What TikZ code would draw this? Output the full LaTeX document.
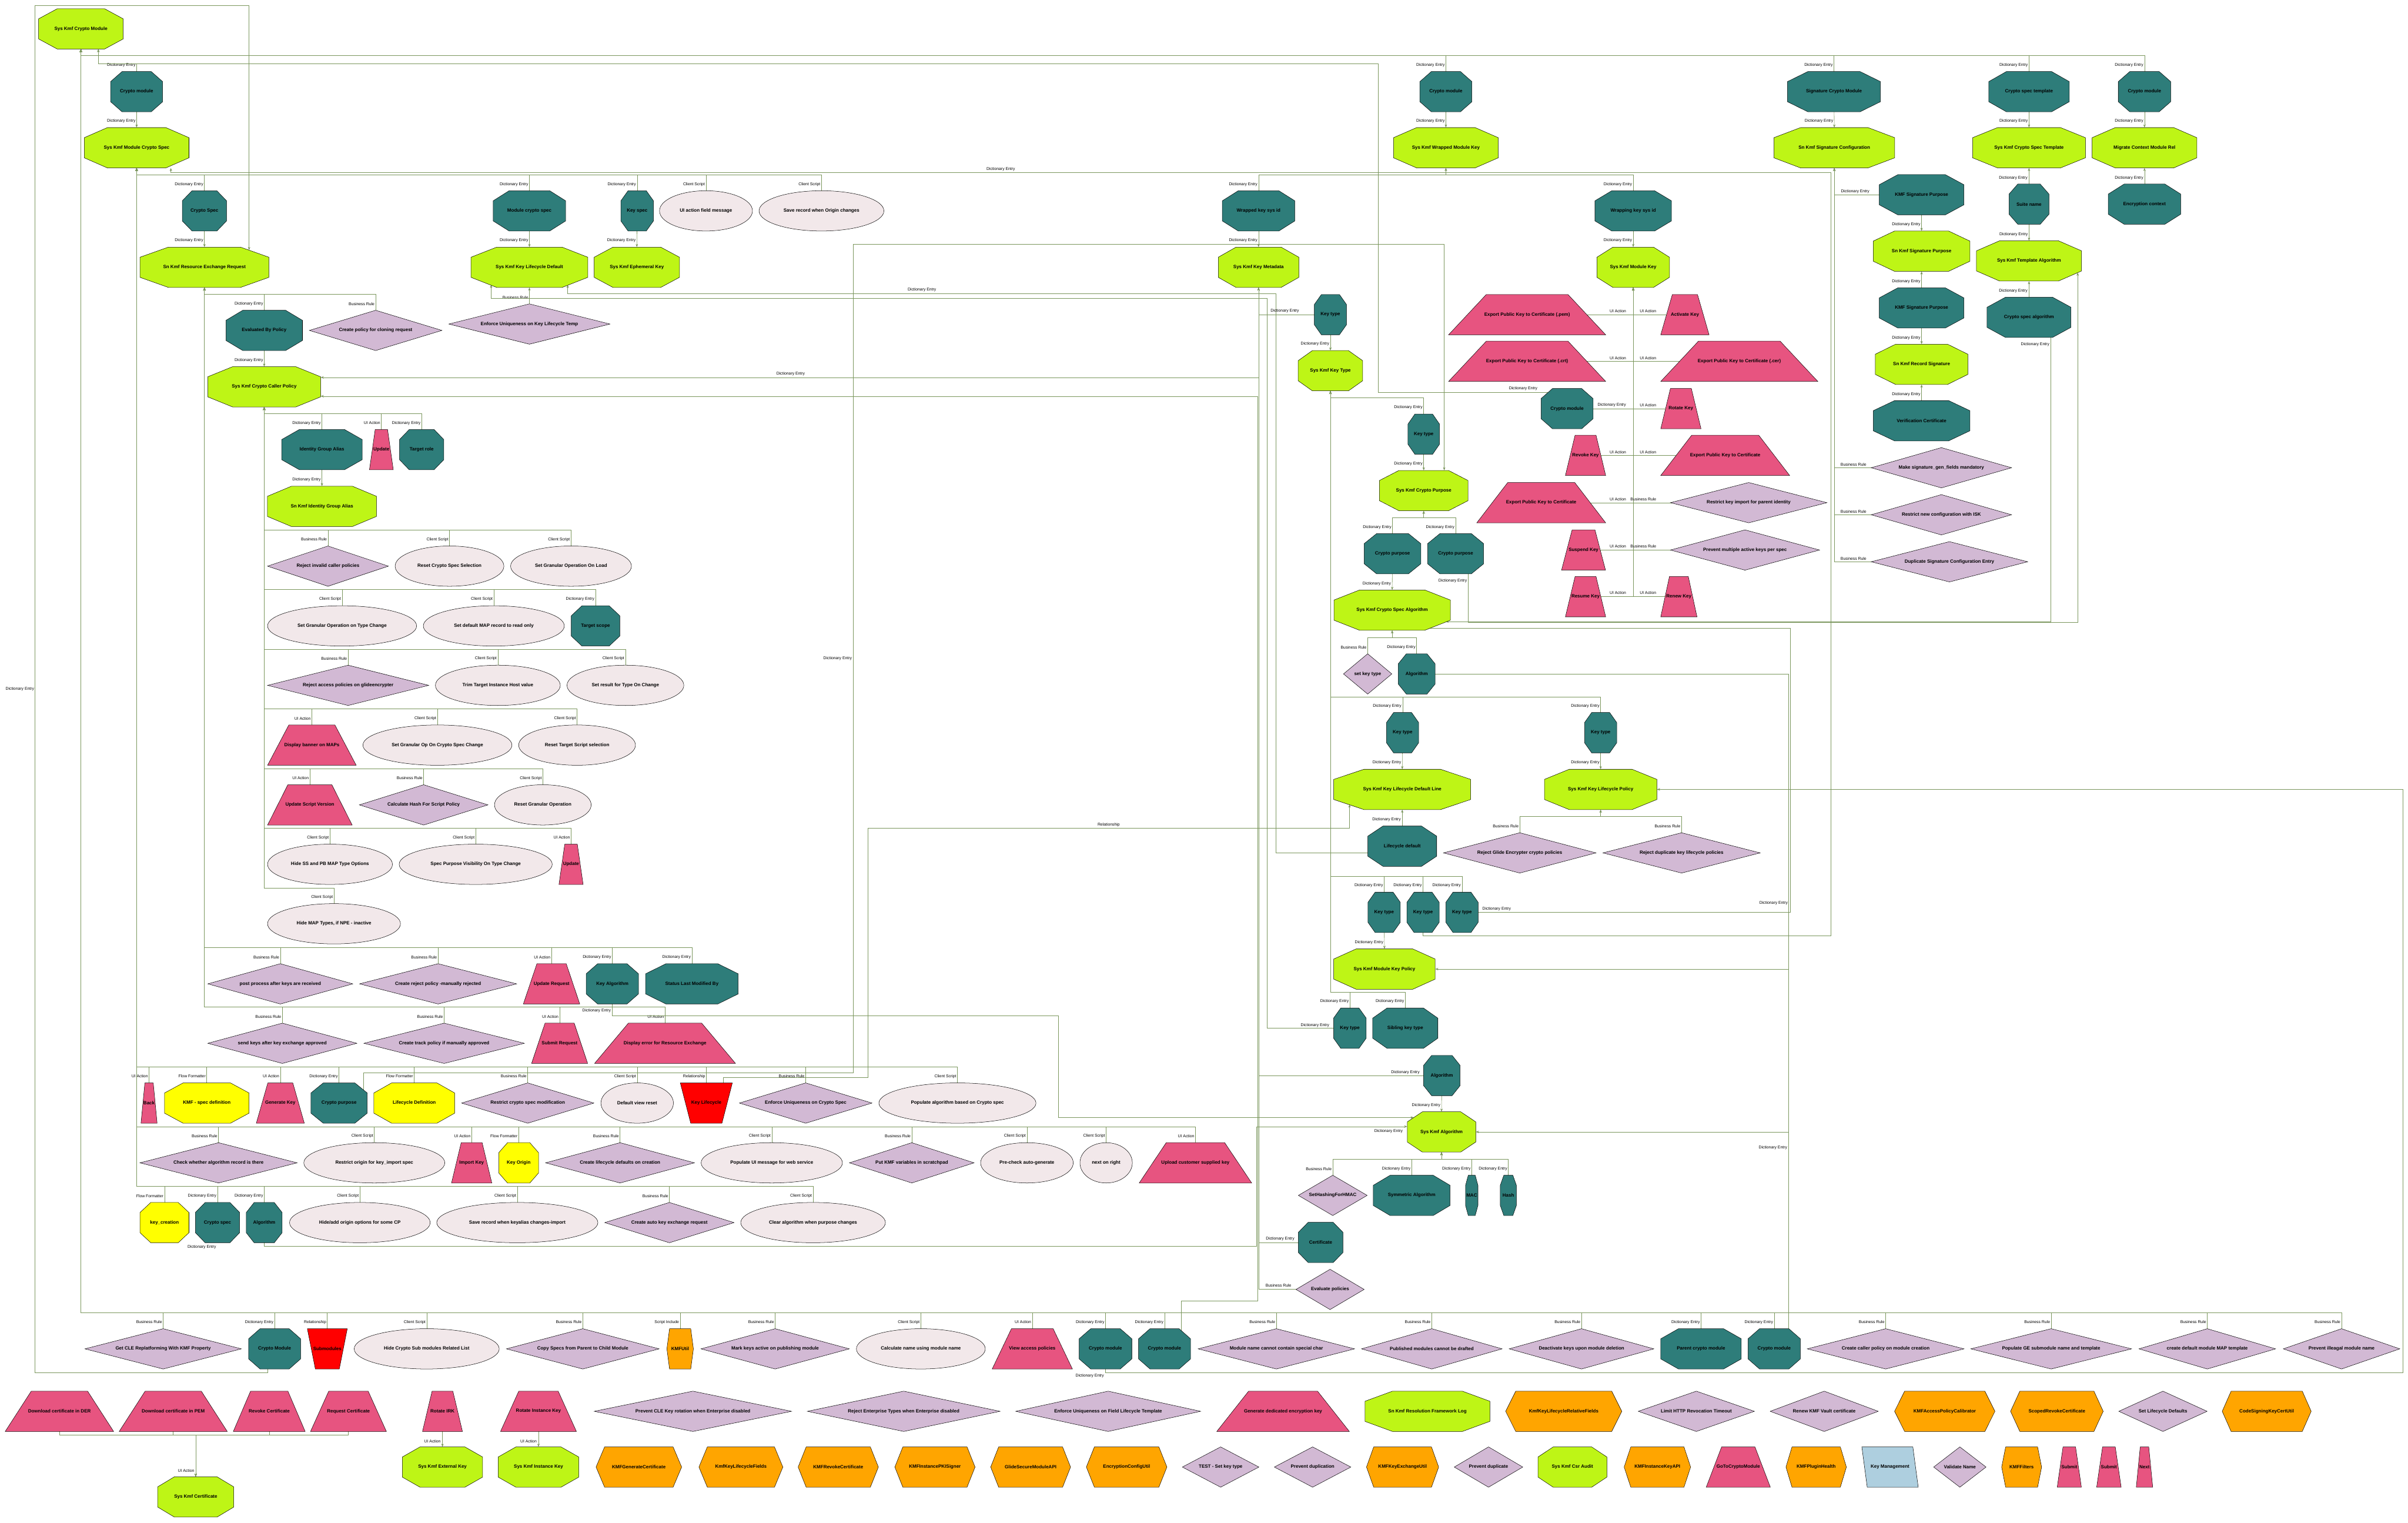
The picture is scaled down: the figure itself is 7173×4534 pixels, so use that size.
\documentclass[tikz,border=0pt]{standalone}
\usepackage{fontspec}
\setmainfont{Liberation Sans}
\usetikzlibrary{arrows.meta}
\definecolor{cLime}{RGB}{190,245,22}
\definecolor{cTeal}{RGB}{46,125,122}
\definecolor{cYel}{RGB}{255,255,0}
\definecolor{cPink}{RGB}{231,84,128}
\definecolor{cLav}{RGB}{210,185,212}
\definecolor{cEll}{RGB}{242,232,234}
\definecolor{cRed}{RGB}{255,0,0}
\definecolor{cOra}{RGB}{255,165,0}
\definecolor{cBlu}{RGB}{174,207,223}
\definecolor{cEdge}{RGB}{122,150,92}
\pgfdeclarelayer{back}
\pgfdeclarelayer{bg}
\pgfsetlayers{back,bg,main}
\tikzset{
  ntxt/.style={inner sep=0pt,minimum height=60pt,align=center,font=\fontsize{7}{8}\selectfont\bfseries},
  elab/.style={inner sep=0pt,anchor=east,font=\fontsize{6}{7}\selectfont},
  ee/.style={draw=cEdge,line width=0.5pt},
  ea/.style={ee,-{Stealth[length=4.5pt,width=3.5pt]}},
  shp/.style={draw=black,line width=0.45pt},
}
\newcommand\kNode[5]{\node[ntxt,minimum width=#4*0.5pt] (#1) at (#2,#3) {#5};}
\newcommand\kOct[4]{%
  \pgfmathsetmacro\hw{#3/2}\pgfmathsetmacro\cc{min(0.22*#3,90)}%
  \filldraw[shp,fill=#4] (#1-\hw+\cc,#2-60) -- (#1+\hw-\cc,#2-60) -- (#1+\hw,#2-30) -- (#1+\hw,#2+30) -- (#1+\hw-\cc,#2+60) -- (#1-\hw+\cc,#2+60) -- (#1-\hw,#2+30) -- (#1-\hw,#2-30) -- cycle;}
\newcommand\kTb[5]{\kOct{#2}{#3}{#4}{cLime}\kNode{#1}{#2}{#3}{#4}{#5}}
\newcommand\kDi[5]{\kOct{#2}{#3}{#4}{cTeal}\kNode{#1}{#2}{#3}{#4}{#5}}
\newcommand\kFl[5]{\kOct{#2}{#3}{#4}{cYel}\kNode{#1}{#2}{#3}{#4}{#5}}
\newcommand\kBR[5]{\pgfmathsetmacro\hw{#4/2}%
  \filldraw[shp,fill=cLav] (#2-\hw,#3) -- (#2,#3-60) -- (#2+\hw,#3) -- (#2,#3+60) -- cycle;\kNode{#1}{#2}{#3}{#4}{#5}}
\newcommand\kCS[5]{\filldraw[shp,fill=cEll] (#2,#3) ellipse [x radius=#4*0.25pt,y radius=30pt];\kNode{#1}{#2}{#3}{#4}{#5}}
\newcommand\kUI[5]{\pgfmathsetmacro\hw{#4/2}\pgfmathsetmacro\ii{0.24*#4}%
  \filldraw[shp,fill=cPink] (#2-\hw,#3+60) -- (#2-\hw+\ii,#3-60) -- (#2+\hw-\ii,#3-60) -- (#2+\hw,#3+60) -- cycle;\kNode{#1}{#2}{#3}{#4}{#5}}
\newcommand\kRe[5]{\pgfmathsetmacro\hw{#4/2}\pgfmathsetmacro\ii{0.2*#4}%
  \filldraw[shp,fill=cRed] (#2-\hw,#3-60) -- (#2+\hw,#3-60) -- (#2+\hw-\ii,#3+60) -- (#2-\hw+\ii,#3+60) -- cycle;\kNode{#1}{#2}{#3}{#4}{#5}}
\newcommand\kSI[5]{\pgfmathsetmacro\hw{#4/2}\pgfmathsetmacro\ii{min(0.1*#4,30)}%
  \filldraw[shp,fill=cOra] (#2-\hw+\ii,#3-60) -- (#2+\hw-\ii,#3-60) -- (#2+\hw,#3) -- (#2+\hw-\ii,#3+60) -- (#2-\hw+\ii,#3+60) -- (#2-\hw,#3) -- cycle;\kNode{#1}{#2}{#3}{#4}{#5}}
\newcommand\kMn[5]{\pgfmathsetmacro\hw{#4/2}%
  \filldraw[shp,fill=cBlu] (#2-\hw,#3-60) -- (#2+\hw-16,#3-60) -- (#2+\hw,#3+60) -- (#2-\hw+16,#3+60) -- cycle;\kNode{#1}{#2}{#3}{#4}{#5}}
\newcounter{lc}
\newcommand\eLB[2]{\stepcounter{lc}\node[elab] (lb\thelc) at ([xshift=-1.5pt,yshift=9.5pt]#1.north) {#2};}
\newcommand\eLA[3]{\stepcounter{lc}\node[elab] (lb\thelc) at (#1,#2) {#3};}
\newcommand\eUp[4]{\draw[ea] (#1.center) -- (#1.center |- 0,#3) -| (#2.south);\eLB{#1}{#4}}
\newcommand\eDn[3]{\draw[ea] (#1.center) -- (#2.north);\eLB{#2}{#3}}
\newcommand\lDE{Dictionary Entry}
\newcommand\lBR{Business Rule}
\newcommand\lCS{Client Script}
\newcommand\lUI{UI Action}
\newcommand\lFF{Flow Formatter}
\newcommand\lRE{Relationship}
\newcommand\lSI{Script Include}
\begin{document}
\begin{tikzpicture}[x=0.5pt,y=-0.5pt]
\useasboundingbox (0,0) rectangle (7173,4534);
\begin{pgfonlayer}{back}
\fill[white] (0,0) rectangle (7173,4534);
\end{pgfonlayer}
% ---------------- top-left
\kTb{cm}{241}{86}{252}{Sys Kmf Crypto Module}
\kDi{cmA}{407}{273}{155}{Crypto module}
\kTb{mcs}{407}{440}{312}{Sys Kmf Module Crypto Spec}
\kDi{cspec}{609}{628}{132}{Crypto Spec}
\kTb{rer}{609}{796}{384}{Sn Kmf Resource Exchange Request}
\kDi{mcspec}{1577}{628}{216}{Module crypto spec}
\kTb{kld}{1577}{796}{348}{Sys Kmf Key Lifecycle Default}
\kDi{keyspec}{1898}{628}{97}{Key spec}
\kCS{uiafm}{2103}{628}{277}{UI action field message}
\kCS{srwoc}{2447}{628}{372}{Save record when Origin changes}
\kTb{ephk}{1897}{796}{254}{Sys Kmf Ephemeral Key}
\kDi{ebp}{787}{984}{228}{Evaluated By Policy}
\kBR{cpcr}{1119}{984}{395}{Create policy for cloning request}
\kBR{eukl}{1577}{965}{480}{Enforce Uniqueness on Key Lifecycle Temp}
\kTb{ccp}{787}{1152}{336}{Sys Kmf Crypto Caller Policy}
\kDi{iga}{959}{1339}{240}{Identity Group Alias}
\kUI{upd1}{1136}{1339}{71}{Update}
\kDi{trole}{1256}{1339}{132}{Target role}
\kTb{siga}{959}{1508}{325}{Sn Kmf Identity Group Alias}
% caller policy rows
\kBR{ricp}{977}{1686}{360}{Reject invalid caller policies}
\kCS{rcss}{1339}{1686}{324}{Reset Crypto Spec Selection}
\kCS{sgool}{1701}{1686}{360}{Set Granular Operation On Load}
\kCS{sgotc}{1019}{1864}{444}{Set Granular Operation on Type Change}
\kCS{sdmap}{1471}{1864}{420}{Set default MAP record to read only}
\kDi{tscope}{1774}{1864}{145}{Target scope}
\kBR{rapg}{1037}{2041}{480}{Reject access policies on glideencrypter}
\kCS{ttih}{1483}{2041}{372}{Trim Target Instance Host value}
\kCS{srtoc}{1863}{2041}{348}{Set result for Type On Change}
\kUI{dbm}{929}{2219}{264}{Display banner on MAPs}
\kCS{sgocs}{1303}{2219}{444}{Set Granular Op On Crypto Spec Change}
\kCS{rtss}{1719}{2219}{348}{Reset Target Script selection}
\kUI{usv}{923}{2397}{252}{Update Script Version}
\kBR{chsp}{1262}{2397}{383}{Calculate Hash For Script Policy}
\kCS{rgo}{1617}{2397}{288}{Reset Granular Operation}
\kCS{hsspb}{983}{2574}{372}{Hide SS and PB MAP Type Options}
\kCS{spvtc}{1417}{2574}{456}{Spec Purpose Visibility On Type Change}
\kUI{upd2}{1701}{2574}{72}{Update}
\kCS{hmtn}{995}{2751}{396}{Hide MAP Types, if NPE - inactive}
% resource exchange rows
\kBR{ppak}{835}{2930}{432}{post process after keys are received}
\kBR{crpm}{1305}{2930}{468}{Create reject policy -manually rejected}
\kUI{ureq}{1643}{2930}{168}{Update Request}
\kDi{kalg}{1824}{2930}{156}{Key Algorithm}
\kDi{slmb}{2061}{2930}{276}{Status Last Modified By}
\kBR{skak}{841}{3107}{444}{send keys after key exchange approved}
\kBR{ctpm}{1323}{3107}{478}{Create track policy if manually approved}
\kUI{sreq}{1667}{3107}{167}{Submit Request}
\kUI{dere}{1981}{3107}{420}{Display error for Resource Exchange}
% lower-left rows
\kUI{back}{444}{3285}{48}{Back}
\kFl{kmfsd}{616}{3285}{252}{KMF - spec definition}
\kUI{genk}{835}{3285}{143}{Generate Key}
\kDi{cpur}{1010}{3285}{168}{Crypto purpose}
\kFl{lcdef}{1234}{3285}{241}{Lifecycle Definition}
\kBR{rcsm}{1572}{3285}{394}{Restrict crypto spec modification}
\kCS{dvr}{1898}{3285}{216}{Default view reset}
\kRe{klc}{2104}{3285}{155}{Key Lifecycle}
\kBR{eucs}{2400}{3285}{395}{Enforce Uniqueness on Crypto Spec}
\kCS{pabc}{2852}{3285}{468}{Populate algorithm based on Crypto spec}
\kBR{cwar}{651}{3463}{468}{Check whether algorithm record is there}
\kCS{rokis}{1115}{3463}{420}{Restrict origin for key\_import spec}
\kUI{impk}{1405}{3463}{120}{Import Key}
\kFl{korig}{1545}{3463}{119}{Key Origin}
\kBR{cldc}{1847}{3463}{443}{Create lifecycle defaults on creation}
\kCS{puimw}{2299}{3463}{421}{Populate UI message for web service}
\kBR{pkvs}{2716}{3463}{371}{Put KMF variables in scratchpad}
\kCS{pcag}{3059}{3463}{276}{Pre-check auto-generate}
\kCS{nor}{3295}{3463}{156}{next on right}
\kUI{ucsk}{3561}{3463}{335}{Upload customer supplied key}
\kFl{kcre}{490}{3641}{146}{key\_creation}
\kDi{cspec2}{648}{3641}{132}{Crypto spec}
\kDi{alg1}{787}{3641}{107}{Algorithm}
\kCS{haoo}{1072}{3641}{419}{Hide/add origin options for some CP}
\kCS{srwk}{1541}{3641}{480}{Save record when keyalias changes-import}
\kBR{cakx}{1994}{3641}{385}{Create auto key exchange request}
\kCS{cawp}{2422}{3641}{431}{Clear algorithm when purpose changes}
% bottom row
\kBR{gcle}{486}{4017}{466}{Get CLE Replatforming With KMF Property}
\kDi{cmB}{818}{4017}{155}{Crypto Module}
\kRe{subm}{975}{4017}{119}{Submodules}
\kCS{hcsm}{1271}{4017}{432}{Hide Crypto Sub modules Related List}
\kBR{cspc}{1736}{4017}{455}{Copy Specs from Parent to Child Module}
\kSI{kutil}{2026}{4017}{79}{KMFUtil}
\kBR{mkap}{2309}{4017}{442}{Mark keys active on publishing module}
\kCS{cnum}{2743}{4017}{384}{Calculate name using module name}
\kUI{vap}{3075}{4017}{239}{View access policies}
\kDi{cmC}{3293}{4017}{157}{Crypto module}
\kDi{cmD}{3469}{4017}{155}{Crypto module}
\kBR{mncc}{3802}{4017}{466}{Module name cannot contain special char}
\kBR{pmcd}{4265}{4017}{419}{Published modules cannot be drafted}
\kBR{dkum}{4711}{4017}{431}{Deactivate keys upon module deletion}
\kDi{pcm}{5067}{4017}{240}{Parent crypto module}
\kDi{cmE}{5285}{4017}{156}{Crypto module}
\kBR{ccpm}{5617}{4017}{467}{Create caller policy on module creation}
\kBR{pges}{6110}{4017}{479}{Populate GE submodule name and template}
\kBR{cdmm}{6575}{4017}{407}{create default module MAP template}
\kBR{pimn}{6975}{4017}{347}{Prevent illeagal module name}
% standalone row 1
\kUI{dder}{177}{4203}{323}{Download certificate in DER}
\kUI{dpem}{516}{4203}{322}{Download certificate in PEM}
\kUI{rvc}{802}{4203}{214}{Revoke Certificate}
\kUI{rqc}{1038}{4203}{226}{Request Certificate}
\kUI{rirk}{1318}{4203}{119}{Rotate IRK}
\kUI{rik}{1604}{4203}{226}{Rotate Instance Key}
\kBR{pcle}{2064}{4203}{588}{Prevent CLE Key rotation when Enterprise disabled}
\kBR{rete}{2692}{4203}{574}{Reject Enterprise Types when Enterprise disabled}
\kBR{eufl}{3301}{4203}{551}{Enforce Uniqueness on Field Lifecycle Template}
\kUI{gdek}{3822}{4203}{395}{Generate dedicated encryption key}
\kTb{srfl}{4252}{4203}{372}{Sn Kmf Resolution Framework Log}
\kSI{kklr}{4658}{4203}{346}{KmfKeyLifecycleRelativeFields}
\kBR{lhrt}{5053}{4203}{346}{Limit HTTP Revocation Timeout}
\kBR{rkvc}{5434}{4203}{322}{Renew KMF Vault certificate}
\kSI{kapc}{5793}{4203}{299}{KMFAccessPolicyCalibrator}
\kSI{srcert}{6127}{4203}{276}{ScopedRevokeCertificate}
\kBR{sld}{6443}{4203}{263}{Set Lifecycle Defaults}
\kSI{cskc}{6752}{4203}{265}{CodeSigningKeyCertUtil}
% standalone row 2
\kTb{sek}{1318}{4369}{239}{Sys Kmf External Key}
\kTb{sik}{1604}{4369}{240}{Sys Kmf Instance Key}
\kSI{kgc}{1903}{4369}{255}{KMFGenerateCertificate}
\kSI{kklf}{2207}{4369}{250}{KmfKeyLifecycleFields}
\kSI{krc}{2497}{4369}{239}{KMFRevokeCertificate}
\kSI{kips}{2785}{4369}{239}{KMFInstancePKISigner}
\kSI{gsma}{3070}{4369}{238}{GlideSecureModuleAPI}
\kSI{ecu}{3356}{4369}{240}{EncryptionConfigUtil}
\kBR{tskt}{3636}{4369}{228}{TEST - Set key type}
\kBR{pdn}{3910}{4369}{228}{Prevent duplication}
\kSI{kkxu}{4178}{4369}{215}{KMFKeyExchangeUtil}
\kBR{pdt}{4434}{4369}{204}{Prevent duplicate}
\kTb{scsr}{4684}{4369}{205}{Sys Kmf Csr Audit}
\kSI{kika}{4937}{4369}{198}{KMFInstanceKeyAPI}
\kUI{gtcm}{5178}{4369}{191}{GoToCryptoModule}
\kSI{kph}{5410}{4369}{180}{KMFPluginHealth}
\kMn{kmgt}{5630}{4369}{168}{Key Management}
\kBR{vname}{5838}{4369}{156}{Validate Name}
\kSI{kfil}{6022}{4369}{119}{KMFFilters}
\kUI{sub1}{6164}{4369}{72}{Submit}
\kUI{sub2}{6282}{4369}{73}{Submit}
\kUI{nxt}{6388}{4369}{49}{Next}
\kTb{scert}{583}{4458}{227}{Sys Kmf Certificate}
% ---------------- middle
\kDi{cmF}{4307}{273}{155}{Crypto module}
\kTb{swmk}{4307}{440}{312}{Sys Kmf Wrapped Module Key}
\kDi{wksi}{3749}{628}{216}{Wrapped key sys id}
\kTb{skm}{3749}{796}{240}{Sys Kmf Key Metadata}
\kDi{wgksi}{4865}{628}{228}{Wrapping key sys id}
\kTb{smk}{4865}{796}{216}{Sys Kmf Module Key}
\kDi{kt1}{3963}{937}{96}{Key type}
\kTb{skt}{3963}{1104}{192}{Sys Kmf Key Type}
\kDi{kt2}{4241}{1293}{94}{Key type}
\kTb{scp}{4241}{1461}{264}{Sys Kmf Crypto Purpose}
\kUI{epem}{4549}{937}{468}{Export Public Key to Certificate (.pem)}
\kUI{actk}{5019}{937}{144}{Activate Key}
\kUI{ecrt}{4549}{1076}{468}{Export Public Key to Certificate (.crt)}
\kUI{ecer}{5181}{1076}{468}{Export Public Key to Certificate (.cer)}
\kDi{cmG}{4668}{1217}{155}{Crypto module}
\kUI{rotk}{5007}{1217}{120}{Rotate Key}
\kUI{revk}{4723}{1356}{120}{Revoke Key}
\kUI{epkc1}{5139}{1356}{384}{Export Public Key to Certificate}
\kUI{epkc2}{4591}{1497}{384}{Export Public Key to Certificate}
\kBR{rkip}{5209}{1497}{466}{Restrict key import for parent identity}
\kUI{susk}{4717}{1638}{131}{Suspend Key}
\kBR{pmak}{5198}{1638}{444}{Prevent multiple active keys per spec}
\kUI{resk}{4723}{1777}{120}{Resume Key}
\kUI{renk}{5001}{1777}{108}{Renew Key}
\kDi{cpu1}{4148}{1649}{169}{Crypto purpose}
\kDi{cpu2}{4336}{1649}{167}{Crypto purpose}
\kTb{scsa}{4147}{1817}{347}{Sys Kmf Crypto Spec Algorithm}
\kBR{skty}{4074}{2007}{144}{set key type}
\kDi{alg2}{4220}{2007}{110}{Algorithm}
\kDi{kt3}{4178}{2182}{96}{Key type}
\kDi{kt4}{4768}{2182}{96}{Key type}
\kTb{skldl}{4177}{2351}{408}{Sys Kmf Key Lifecycle Default Line}
\kTb{sklp}{4768}{2351}{335}{Sys Kmf Key Lifecycle Policy}
\kDi{lcd}{4177}{2520}{205}{Lifecycle default}
\kBR{rgec}{4527}{2540}{454}{Reject Glide Encrypter crypto policies}
\kBR{rdkl}{5009}{2540}{468}{Reject duplicate key lifecycle policies}
\kDi{kt5}{4123}{2717}{96}{Key type}
\kDi{kt6}{4239}{2717}{96}{Key type}
\kDi{kt7}{4355}{2717}{96}{Key type}
\kTb{smkp}{4124}{2886}{302}{Sys Kmf Module Key Policy}
\kDi{kt8}{4021}{3062}{97}{Key type}
\kDi{sibk}{4186}{3062}{194}{Sibling key type}
\kDi{alg3}{4295}{3203}{109}{Algorithm}
\kTb{salg}{4294}{3371}{204}{Sys Kmf Algorithm}
\kBR{shfh}{3970}{3560}{205}{SetHashingForHMAC}
\kDi{symalg}{4205}{3560}{229}{Symmetric Algorithm}
\kDi{mac}{4384}{3560}{37}{MAC}
\kDi{hash}{4493}{3560}{48}{Hash}
\kDi{cert}{3934}{3700}{133}{Certificate}
\kBR{evp}{3962}{3840}{203}{Evaluate policies}
% ---------------- right
\kDi{scm}{5463}{273}{277}{Signature Crypto Module}
\kTb{ssc}{5464}{440}{360}{Sn Kmf Signature Configuration}
\kDi{cst}{6044}{273}{240}{Crypto spec template}
\kTb{scst}{6044}{440}{336}{Sys Kmf Crypto Spec Template}
\kDi{cmH}{6388}{273}{156}{Crypto module}
\kTb{mcmr}{6388}{440}{312}{Migrate Context Module Rel}
\kDi{ectx}{6388}{608}{216}{Encryption context}
\kDi{sname}{6044}{608}{119}{Suite name}
\kTb{sta}{6044}{777}{313}{Sys Kmf Template Algorithm}
\kDi{csa}{6044}{945}{250}{Crypto spec algorithm}
\kDi{ksp1}{5724}{580}{252}{KMF Signature Purpose}
\kTb{sksp}{5724}{748}{288}{Sn Kmf Signature Purpose}
\kDi{ksp2}{5724}{917}{252}{KMF Signature Purpose}
\kTb{skrs}{5724}{1085}{276}{Sn Kmf Record Signature}
\kDi{vcert}{5724}{1253}{288}{Verification Certificate}
\kBR{msgf}{5783}{1393}{418}{Make signature\_gen\_fields mandatory}
\kBR{rnci}{5783}{1533}{418}{Restrict new configuration with ISK}
\kBR{dsce}{5807}{1673}{466}{Duplicate Signature Configuration Entry}
% ================= edges
\begin{pgfonlayer}{bg}
% Sys Kmf Crypto Module
\foreach \n in {cmF,scm,cst,cmH} {\eUp{\n}{cm}{165}{\lDE}}
\foreach \n/\l in {gcle/\lBR,cmB/\lDE,subm/\lRE,hcsm/\lCS,cspc/\lBR,kutil/\lSI,mkap/\lBR,cnum/\lCS,vap/\lUI,cmC/\lDE,cmD/\lDE,mncc/\lBR,pmcd/\lBR,dkum/\lBR,pcm/\lDE,cmE/\lDE,ccpm/\lBR,pges/\lBR,cdmm/\lBR,pimn/\lBR} {\eUp{\n}{cm}{3910}{\l}}
\draw[ea] (cmA.center) -- (cmA.center |- 0,190) -| ([xshift=26pt]cm.south);
\eLB{cmA}{\lDE}
\draw[ea] (cmG.center |- 0,1168) -| (4105,190) -| ([xshift=26pt]cm.south);
\eLA{4580}{1157}{\lDE}
\draw[ea] ([xshift=-10.5pt]cmB.center) -- (797,4087) -- (104,4087) -- (104,15.5) -- (742,15.5) -- ([xshift=66.5pt,yshift=-4.5pt]rer.north);
\eLA{102}{2052}{\lDE}
% Module crypto spec
\eDn{cmA}{mcs}{\lDE}
\foreach \n/\l in {cspec/\lDE,mcspec/\lDE,keyspec/\lDE,uiafm/\lCS,srwoc/\lCS} {\eUp{\n}{mcs}{520}{\l}}
\foreach \n/\l in {back/\lUI,kmfsd/\lFF,genk/\lUI,cpur/\lDE,lcdef/\lFF,rcsm/\lBR,dvr/\lCS,klc/\lRE,eucs/\lBR,pabc/\lCS} {\eUp{\n}{mcs}{3177}{\l}}
\foreach \n/\l in {cwar/\lBR,rokis/\lCS,impk/\lUI,korig/\lFF,cldc/\lBR,puimw/\lCS,pkvs/\lBR,pcag/\lCS,nor/\lCS,ucsk/\lUI} {\eUp{\n}{mcs}{3355}{\l}}
\foreach \n/\l in {kcre/\lFF,cspec2/\lDE,alg1/\lDE,haoo/\lCS,srwk/\lCS,cakx/\lBR,cawp/\lCS} {\eUp{\n}{mcs}{3533}{\l}}
\eDn{cspec}{rer}{\lDE}
\eDn{mcspec}{kld}{\lDE}
\eDn{keyspec}{ephk}{\lDE}
\draw[ea] (kt6.center) -- (4239,2786) -- (5453,2786) -- (5453,514) -- (509,514) -- ([xshift=51pt]mcs.south);
\eLA{3024}{504}{\lDE}
% Resource exchange
\foreach \n/\l in {ebp/\lDE,cpcr/\lBR} {\eUp{\n}{rer}{876}{\l}}
\foreach \n/\l in {ppak/\lBR,crpm/\lBR,ureq/\lUI,kalg/\lDE,slmb/\lDE} {\eUp{\n}{rer}{2821}{\l}}
\foreach \n/\l in {skak/\lBR,ctpm/\lBR,sreq/\lUI,dere/\lUI} {\eUp{\n}{rer}{2999}{\l}}
\eDn{ebp}{ccp}{\lDE}
% Caller policy
\foreach \n/\l in {iga/\lDE,upd1/\lUI,trole/\lDE} {\eUp{\n}{ccp}{1231}{\l}}
\foreach \n/\l in {ricp/\lBR,rcss/\lCS,sgool/\lCS} {\eUp{\n}{ccp}{1578}{\l}}
\foreach \n/\l in {sgotc/\lCS,sdmap/\lCS,tscope/\lDE} {\eUp{\n}{ccp}{1756}{\l}}
\foreach \n/\l in {rapg/\lBR,ttih/\lCS,srtoc/\lCS} {\eUp{\n}{ccp}{1933}{\l}}
\foreach \n/\l in {dbm/\lUI,sgocs/\lCS,rtss/\lCS} {\eUp{\n}{ccp}{2111}{\l}}
\foreach \n/\l in {usv/\lUI,chsp/\lBR,rgo/\lCS} {\eUp{\n}{ccp}{2289}{\l}}
\foreach \n/\l in {hsspb/\lCS,spvtc/\lCS,upd2/\lUI} {\eUp{\n}{ccp}{2466}{\l}}
\eUp{hmtn}{ccp}{2644}{\lCS}
\eDn{iga}{siga}{\lDE}
\draw[ea] (cert.center) -- (3750,3700) -- (3750,1124) -- ([yshift=14pt]ccp.east);
\eLA{2398}{1113}{\lDE}
\draw[ea] ([xshift=25pt]cmD.center) -- (3519,3875) -- (3746,3875) -- (3746,1180) -- ([yshift=-14pt]ccp.east);
% Key lifecycle default
\draw[ea] (eukl.center) -- (kld.south);
\eLA{1574}{886}{\lBR}
\draw[ea] (kt8.center) -- (3775,3062) -- (3775,888) -- (1463,888) -- ([xshift=-57pt,yshift=4pt]kld.south);
\eLA{3960}{3053}{\lDE}
\draw[ea] ([yshift=-10pt]lcd.center) -- (3801,2540) -- (3801,874) -- (1691,874) -- ([xshift=57pt,yshift=4pt]kld.south);
\eLA{2789}{863}{\lDE}
% Key metadata
\eDn{wksi}{skm}{\lDE}
\draw[ea] (kt1.center) -| (skm.south);
\eLA{3870}{926}{\lDE}
\draw[ea] (alg3.center) -| (skm.south);
\eLA{4229}{3193}{\lDE}
\draw[ea] (cert.center) -| (skm.south);
\eLA{3856}{3689}{\lDE}
\draw[ea] (evp.center) -| (skm.south);
\eLA{3847}{3829}{\lBR}
% wrapped module key
\eDn{cmF}{swmk}{\lDE}
\eUp{wksi}{swmk}{520}{\lDE}
\eUp{wgksi}{swmk}{520}{\lDE}
\eDn{wgksi}{smk}{\lDE}
% key type
\eDn{kt1}{skt}{\lDE}
\eUp{kt2}{skt}{1184}{\lDE}
\foreach \n in {kt3,kt4} {\eUp{\n}{skt}{2075}{\lDE}}
\foreach \n in {kt5,kt6,kt7} {\eUp{\n}{skt}{2610}{\lDE}}
\foreach \n in {kt8,sibk} {\eUp{\n}{skt}{2954}{\lDE}}
% crypto purpose
\eDn{kt2}{scp}{\lDE}
\draw[ea] ([xshift=36.5pt]cpur.center) -- (1083,3194) -- (2541,3194) -- (2541,727) -- (4302,727) -- ([xshift=30.5pt]scp.north);
\eLA{2538}{1961}{\lDE}
\foreach \n in {cpu1,cpu2} {\eUp{\n}{scp}{1541}{\lDE}}
% crypto spec algorithm
\eDn{cpu1}{scsa}{\lDE}
\eUp{skty}{scsa}{1898}{\lBR}
\eUp{alg2}{scsa}{1898}{\lDE}
\draw[ea] ([xshift=32.5pt]csa.center) -- (6109,1851) -- (4306,1851);
\eLA{6105}{1025}{\lDE}
\draw[ea] ([xshift=18.5pt]cpu2.center) -- (4373,1854) -- (6189,1854) -- (6189,812);
\eLA{4370}{1730}{\lDE}
\draw[ea] (kt7.center) -- (5333,2717) -- (5333,1870) -- (4245,1870);
\eLA{4501}{2707}{\lDE}
\eLA{5326}{2689}{\lDE}
% key lifecycle default line / policy
\eDn{kt3}{skldl}{\lDE}
\draw[ea] (lcd.center) -- (skldl.south);
\eLA{4173}{2440}{\lDE}
\draw[ea] ([xshift=25.5pt]klc.center) -- (2155,3208) -- (2586,3208) -- (2586,2466) -- (4020,2466) -- (4020,2396);
\eLA{3336}{2456}{\lRE}
\eDn{kt4}{sklp}{\lDE}
\foreach \n in {rgec,rdkl} {\eUp{\n}{sklp}{2431}{\lBR}}
\draw[ea] (cmC.center) -- (3293,4087) -- (7157,4087) -- (7157,2351) -- (sklp.east);
\eLA{3289}{4098}{\lDE}
% module key policy
\eDn{kt5}{smkp}{\lDE}
\draw[ea] ([xshift=21pt]cmE.center) -- (5327,2886) -- (smkp.east);
\eLA{5324}{3418}{\lDE}
% algorithm
\eDn{alg3}{salg}{\lDE}
\foreach \n/\l in {shfh/\lBR,symalg/\lDE,mac/\lDE,hash/\lDE} {\eUp{\n}{salg}{3452}{\l}}
\draw[ea] (alg1.center) -- (787,3711) -- (3743,3711) -- (3743,3355) -- ([yshift=8pt]salg.west);
\eLA{644}{3713}{\lDE}
\eLA{4179}{3369}{\lDE}
\draw[ea] (kalg.center) -- (1824,3025) -- (3152,3025) -- (3152,3328) -- (4211,3328);
\eLA{1820}{3009}{\lDE}
\draw[ea] (alg2.center) -- (5328,2007) -- (5328,3371) -- (salg.east);
% module key (UI actions)
\foreach \n in {epem,actk,ecrt,ecer,cmG,rotk,revk,epkc1,epkc2,rkip,susk,pmak,resk,renk} {\draw[ea] (\n.center) -| (smk.south);}
\foreach \y/\a/\b in {926/\lUI/\lUI,1066/\lUI/\lUI,1206/\lDE/\lUI,1346/\lUI/\lUI,1486/\lUI/\lBR,1627/\lUI/\lBR,1766/\lUI/\lUI} {\eLA{4844}{\y}{\a}\eLA{4934}{\y}{\b}}
% signature configuration
\eDn{scm}{ssc}{\lDE}
\foreach \n in {ksp1,msgf,rnci,dsce} {\draw[ea] (\n.center) -| (ssc.south);}
\eLA{5569}{570}{\lDE}
\eLA{5560}{1383}{\lBR}
\eLA{5560}{1523}{\lBR}
\eLA{5560}{1663}{\lBR}
\eDn{ksp1}{sksp}{\lDE}
\draw[ea] (ksp2.center) -- (sksp.south);
\eLA{5721}{838}{\lDE}
\eDn{ksp2}{skrs}{\lDE}
\draw[ea] (vcert.center) -- (skrs.south);
\eLA{5721}{1174}{\lDE}
% templates
\eDn{cst}{scst}{\lDE}
\draw[ea] (sname.center) -- (scst.south);
\eLA{6040}{530}{\lDE}
\eDn{sname}{sta}{\lDE}
\draw[ea] (csa.center) -- (sta.south);
\eLA{6040}{866}{\lDE}
\eDn{cmH}{mcmr}{\lDE}
\draw[ea] (ectx.center) -- (mcmr.south);
\eLA{6385}{530}{\lDE}
% certificates
\foreach \n in {dder,dpem,rvc,rqc} {\draw[ea] (\n.center) -- (\n.center |- 0,4273) -| (scert.north);}
\eLA{579}{4380}{\lUI}
\draw[ea] (rirk.center) -- (sek.north);
\eLA{1313}{4292}{\lUI}
\draw[ea] (rik.center) -- (sik.north);
\eLA{1599}{4292}{\lUI}
\end{pgfonlayer}
\end{tikzpicture}
\end{document}
